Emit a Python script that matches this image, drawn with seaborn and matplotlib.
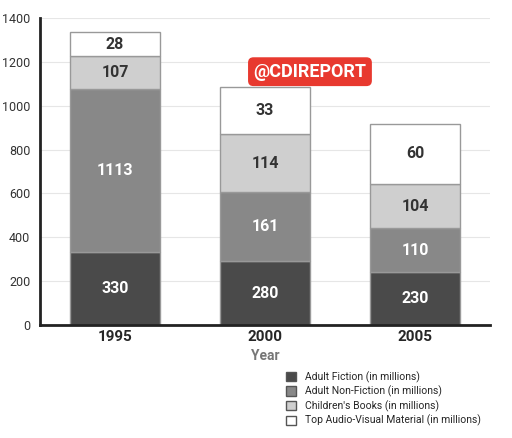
import numpy as np
import matplotlib.pyplot as plt
import seaborn as sns
from matplotlib.patches import Patch

# ========================
# DATA
# ========================
years = ['1995', '2000', '2005']
series = ['Adult Fiction (in millions)', 'Adult Non-Fiction (in millions)',
          "Children's Books (in millions)", 'Top Audio-Visual Material (in millions)']
# drawn segment heights
fiction = [335, 290, 240]
non_fiction = [740, 315, 200]
childrens = [150, 265, 205]
audio_visual = [110, 215, 270]
# value labels printed in the bars
fiction_lbl = [330, 280, 230]
non_fiction_lbl = [1113, 161, 110]
childrens_lbl = [107, 114, 104]
audio_visual_lbl = [28, 33, 60]

colors = ['#4a4a4a', '#888888', '#cfcfcf', '#ffffff']
txt_colors = ['white', 'white', '#333333', '#333333']

sns.set_style('white')
plt.rcParams['font.family'] = ['Roboto', 'DejaVu Sans']

fig = plt.figure(figsize=(5.12, 4.38), dpi=100)
ax = fig.add_axes([0.078, 0.258, 0.879, 0.701])

heights = [fiction, non_fiction, childrens, audio_visual]
labels = [fiction_lbl, non_fiction_lbl, childrens_lbl, audio_visual_lbl]
bottom = np.zeros(len(years))
for h, lbl, c, tc in zip(heights, labels, colors, txt_colors):
    sns.barplot(x=years, y=h, bottom=bottom, color=c, width=0.6,
                edgecolor='#999999', linewidth=1, ax=ax, saturation=1)
    for i, v in enumerate(h):
        ax.text(i, bottom[i] + v / 2, str(lbl[i]), ha='center', va='center',
                fontsize=11.5, fontweight='bold', color=tc)
    bottom = bottom + np.array(h)

ax.set_ylim(0, 1400)
ax.set_xlim(-0.5, 2.5)
ax.set_yticks(range(0, 1401, 200))
ax.yaxis.grid(True, color='#e6e6e6', linewidth=0.8)
ax.set_axisbelow(True)
for s in ['top', 'right']:
    ax.spines[s].set_visible(False)
for s in ['left', 'bottom']:
    ax.spines[s].set_linewidth(2)
    ax.spines[s].set_color('#222222')
ax.tick_params(axis='y', labelsize=9, colors='#333333', left=False)
ax.tick_params(axis='x', labelsize=11, length=0)
for t in ax.get_xticklabels():
    t.set_fontweight('bold')
ax.set_xlabel('Year', fontsize=10, fontweight='bold', color='#777777')

ax.text(1.3, 1155, '@CDIREPORT', ha='center', va='center', fontsize=13,
        fontweight='bold', color='white',
        bbox=dict(boxstyle='round,pad=0.3', fc='#e8392f', ec='none'))

handles = [Patch(facecolor=c, edgecolor='#555555') for c in colors]
fig.legend(handles, series, loc='lower left', bbox_to_anchor=(0.54, 0.005),
           frameon=False, fontsize=7.5, handlelength=1, handleheight=1,
           labelspacing=0.3)

plt.savefig('out.png', dpi=100)
